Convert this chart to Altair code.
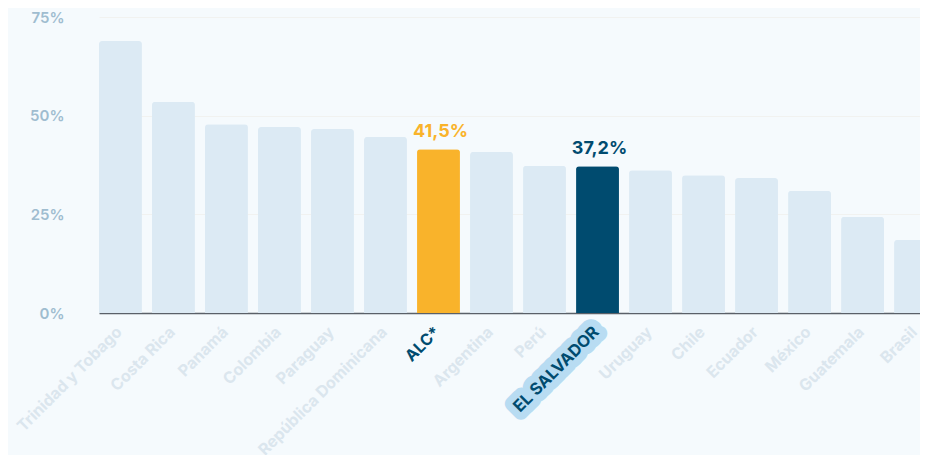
import altair as alt
import pandas as pd

countries = ["Trinidad y Tobago", "Costa Rica", "Panamá", "Colombia", "Paraguay",
             "República Dominicana", "ALC*", "Argentina", "Perú", "EL SALVADOR",
             "Uruguay", "Chile", "Ecuador", "México", "Guatemala", "Brasil"]
values = [68.9, 53.5, 47.8, 47.1, 46.6, 44.6, 41.5, 40.8, 37.3, 37.2,
          36.2, 34.9, 34.2, 31.0, 24.4, 18.5]
groups = ["other"] * 6 + ["alc"] + ["other"] * 2 + ["sv"] + ["other"] * 6
y_ticks = [0, 25, 50, 75]

df = pd.DataFrame({"country": countries, "value": values, "group": groups})

FONT = "Inter"
BG = "#f5fafd"
NAVY = "#004b6f"
AMBER = "#f9b32b"
LIGHT = "#dceaf4"

x_enc = alt.X("country:N", sort=countries,
              scale=alt.Scale(range=[0, 838], paddingInner=0.19, paddingOuter=0),
              axis=alt.Axis(labels=False, ticks=False, title=None,
                            domainColor="#5a6068", domainWidth=1.5, grid=False))
y_enc = alt.Y("value:Q", scale=alt.Scale(domain=[0, 75], nice=False),
              axis=alt.Axis(values=y_ticks, labelExpr="datum.value + '%'", title=None,
                            domain=False, ticks=False, labelPadding=35,
                            labelFont=FONT, labelFontSize=15, labelFontWeight=600,
                            labelColor="#9fbdd0", gridColor="#f1f2f0", gridWidth=1))

base = alt.Chart(df)

bars = base.mark_bar(cornerRadiusTopLeft=3, cornerRadiusTopRight=3).encode(
    x=x_enc, y=y_enc,
    color=alt.Color("group:N", scale=alt.Scale(domain=["other", "alc", "sv"],
                                               range=[LIGHT, AMBER, NAVY]), legend=None),
)

vals = base.transform_filter("datum.group != 'other'").transform_calculate(
    txt="replace(format(datum.value, '.1f'), '.', ',') + '%'"
).mark_text(font=FONT, fontSize=18, fontWeight=700, baseline="bottom", dy=-8, dx=2).encode(
    x=alt.X("country:N", sort=countries), y="value:Q", text="txt:N",
    color=alt.condition("datum.group == 'alc'", alt.value(AMBER), alt.value(NAVY)),
)

pill = base.transform_filter("datum.group == 'sv'").mark_text(
    font=FONT, fontSize=16.5, fontWeight=700, angle=315, align="right", baseline="middle",
    dx=-12.5, dy=11, fill="#b8dcf2", stroke="#b8dcf2", strokeWidth=15, strokeJoin="round",
).encode(x=alt.X("country:N", sort=countries), y=alt.datum(0), text="country:N")

xlabels = base.mark_text(
    font=FONT, fontSize=16, fontWeight=700, angle=315, align="right", baseline="middle",
    dx=-12.5, dy=11,
).encode(
    x=alt.X("country:N", sort=countries), y=alt.datum(0), text="country:N",
    color=alt.condition("datum.group == 'other'", alt.value("#dbe6ee"), alt.value(NAVY)),
    size=alt.condition("datum.group == 'sv'", alt.value(16.5), alt.value(16)),
)

chart = alt.layer(bars, vals, pill, xlabels).properties(
    width=821, height=296,
    autosize=alt.AutoSizeParams(type="none"),
    padding={"left": 91, "top": 9, "right": 0, "bottom": 142},
    background=BG,
).configure_view(stroke=None)

chart.save("out.html", embed_options={"renderer": "svg", "actions": False})
